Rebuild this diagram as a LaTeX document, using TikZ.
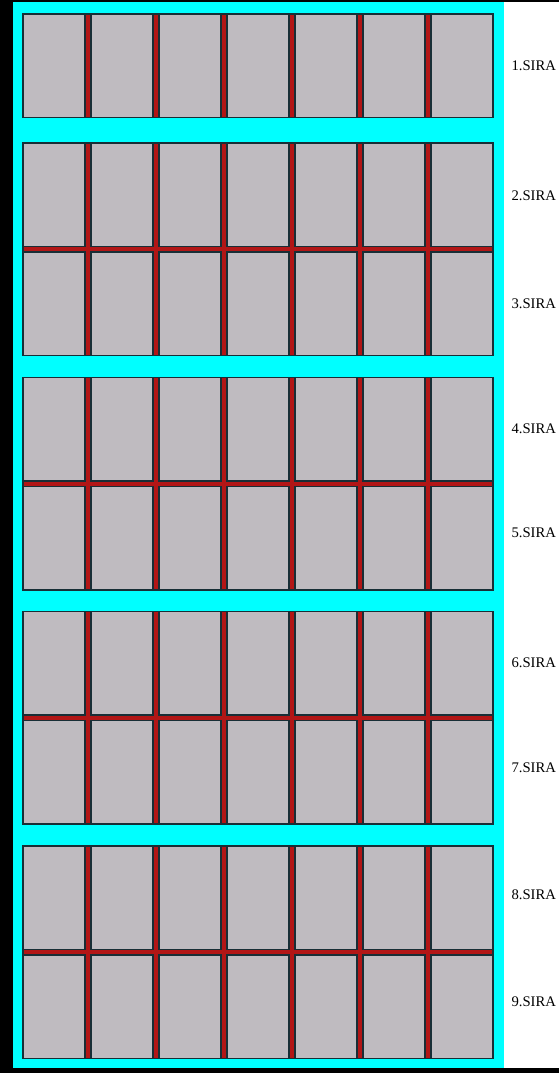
\documentclass[tikz,border=0pt]{standalone}
\usepackage{fontspec}
\setmainfont{Liberation Serif}
\definecolor{sheetcyan}{RGB}{0,255,255}
\definecolor{panelgray}{RGB}{191,187,192}
\definecolor{framered}{RGB}{178,22,22}
\definecolor{edgedark}{RGB}{24,46,54}
\tikzset{every picture/.style={line width=0.75pt}}
\tikzset{
  panel/.style={fill=panelgray, draw=edgedark, line width=1pt},
  bar/.style={fill=framered, draw=edgedark, line width=1pt},
  rowlabel/.style={anchor=west, inner sep=0.75pt, font=\fontsize{11}{13}\selectfont}
}

\begin{document}
\begin{tikzpicture}[x=0.75pt,y=0.75pt,yscale=-1,xscale=1]
\useasboundingbox (0,0) rectangle (559,1073);

% Background
\fill [sheetcyan] (13,2) rectangle (504,1068);
% Frame
\fill [black] (0,0) rectangle (13,1073);
\fill [black] (0,0) rectangle (559,2);
\fill [black] (0,1068) rectangle (559,1073);

% Blocks of panels
\foreach \top/\rows in {14/1, 143/2, 377.5/2, 611.5/2, 846/2}{
  \draw [bar] (23,\top) rectangle (493,{\top+\rows*103.5+(\rows-1)*5.5});
  \foreach \r in {1,...,\rows}{
    \foreach \c in {0,...,6}{
      \draw [panel] ({23+\c*68},{\top+(\r-1)*109}) rectangle ++(62,103.5);
    }
  }
}

% Text Nodes
\foreach \k/\y in {1/66, 2/196, 3/304, 4/429, 5/533, 6/663, 7/768, 8/895, 9/1002}{
  \node [rowlabel] (lbl\k) at (510,\y) {\k.SIRA};
}

\end{tikzpicture}
\end{document}
